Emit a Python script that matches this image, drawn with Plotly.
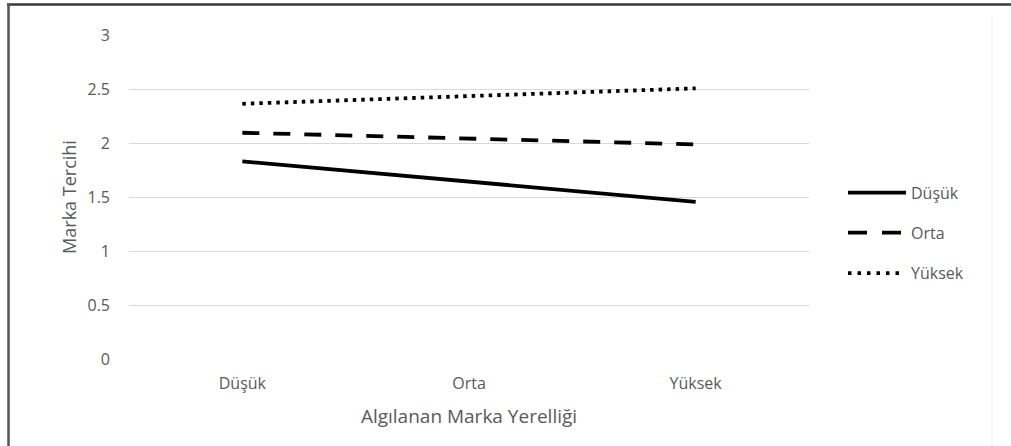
import plotly.graph_objects as go

categories = ["Düşük", "Orta", "Yüksek"]
dusuk = [1.83, 1.64, 1.455]
orta = [2.095, 2.04, 1.987]
yuksek = [2.363, 2.435, 2.506]
y_ticks = [0, 0.5, 1, 1.5, 2, 2.5, 3]
y_tick_labels = ["0", "0.5", "1", "1.5", "2", "2.5", "3"]
series_names = ["Düşük", "Orta", "Yüksek"]

W, H = 1011, 446
L, R_px, T, B_px = 129, 809, 35, 358.7

dashes = ["solid", "17px,14px", "3.5px,5px"]

fig = go.Figure()
for name, vals, dash in zip(series_names, [dusuk, orta, yuksek], dashes):
    fig.add_trace(go.Scatter(
        x=categories, y=vals, name=name, mode="lines",
        line=dict(color="black", width=3.8, dash=dash),
        showlegend=False,
    ))

font = "Open Sans, sans-serif"
grey = "#595959"

def px_x(px):
    return (px - L) / (R_px - L)

def px_y(py):
    return (B_px - py) / (B_px - T)

shapes = [
    dict(type="line", xref="paper", yref="paper",
         x0=px_x(7), x1=px_x(1011), y0=px_y(4.5), y1=px_y(4.5),
         line=dict(color="#3a3a3a", width=2.5)),
    dict(type="line", xref="paper", yref="paper",
         x0=px_x(8.5), x1=px_x(8.5), y0=px_y(4), y1=px_y(446),
         line=dict(color="#555555", width=2.5)),
    dict(type="line", xref="paper", yref="paper",
         x0=px_x(992), x1=px_x(992), y0=px_y(15), y1=px_y(446),
         line=dict(color="#eeeeee", width=1)),
]
annotations = []
legend_y = [192.5, 232.5, 273]
legend_dash = ["solid", "19px,15px", "3.5px,6px"]
legend_end = [906, 906, 902]
for name, ly, dash, xe in zip(series_names, legend_y, legend_dash, legend_end):
    shapes.append(dict(type="line", xref="paper", yref="paper",
                       x0=px_x(848), x1=px_x(xe), y0=px_y(ly), y1=px_y(ly),
                       line=dict(color="black", width=3.8, dash=dash)))
    annotations.append(dict(text=name, xref="paper", yref="paper",
                            x=px_x(909), y=px_y(ly), xanchor="left", yanchor="middle",
                            showarrow=False, font=dict(size=16, color=grey, family=font)))

fig.update_layout(
    width=W, height=H,
    margin=dict(l=L, r=W - R_px, t=T, b=H - B_px, pad=0),
    paper_bgcolor="white", plot_bgcolor="white",
    font=dict(family=font, color=grey, size=16),
    showlegend=False,
    xaxis=dict(
        type="category", range=[-0.5, 2.5],
        showgrid=False, zeroline=False, showline=False,
        ticks="", tickfont=dict(size=16, color=grey),
        ticklabelstandoff=13,
        title=dict(text="Algılanan Marka Yerelliği", font=dict(size=19, color=grey), standoff=16),
    ),
    yaxis=dict(
        range=[0, 3], tickvals=y_ticks, ticktext=y_tick_labels,
        showgrid=True, gridcolor="#d9d9d9", gridwidth=1,
        zeroline=False, showline=False, ticks="",
        tickfont=dict(size=16, color=grey),
        ticklabelstandoff=18,
        title=dict(text="Marka Tercihi", font=dict(size=18, color=grey), standoff=6),
    ),
    shapes=shapes,
    annotations=annotations,
)

fig.write_html("out.html")
